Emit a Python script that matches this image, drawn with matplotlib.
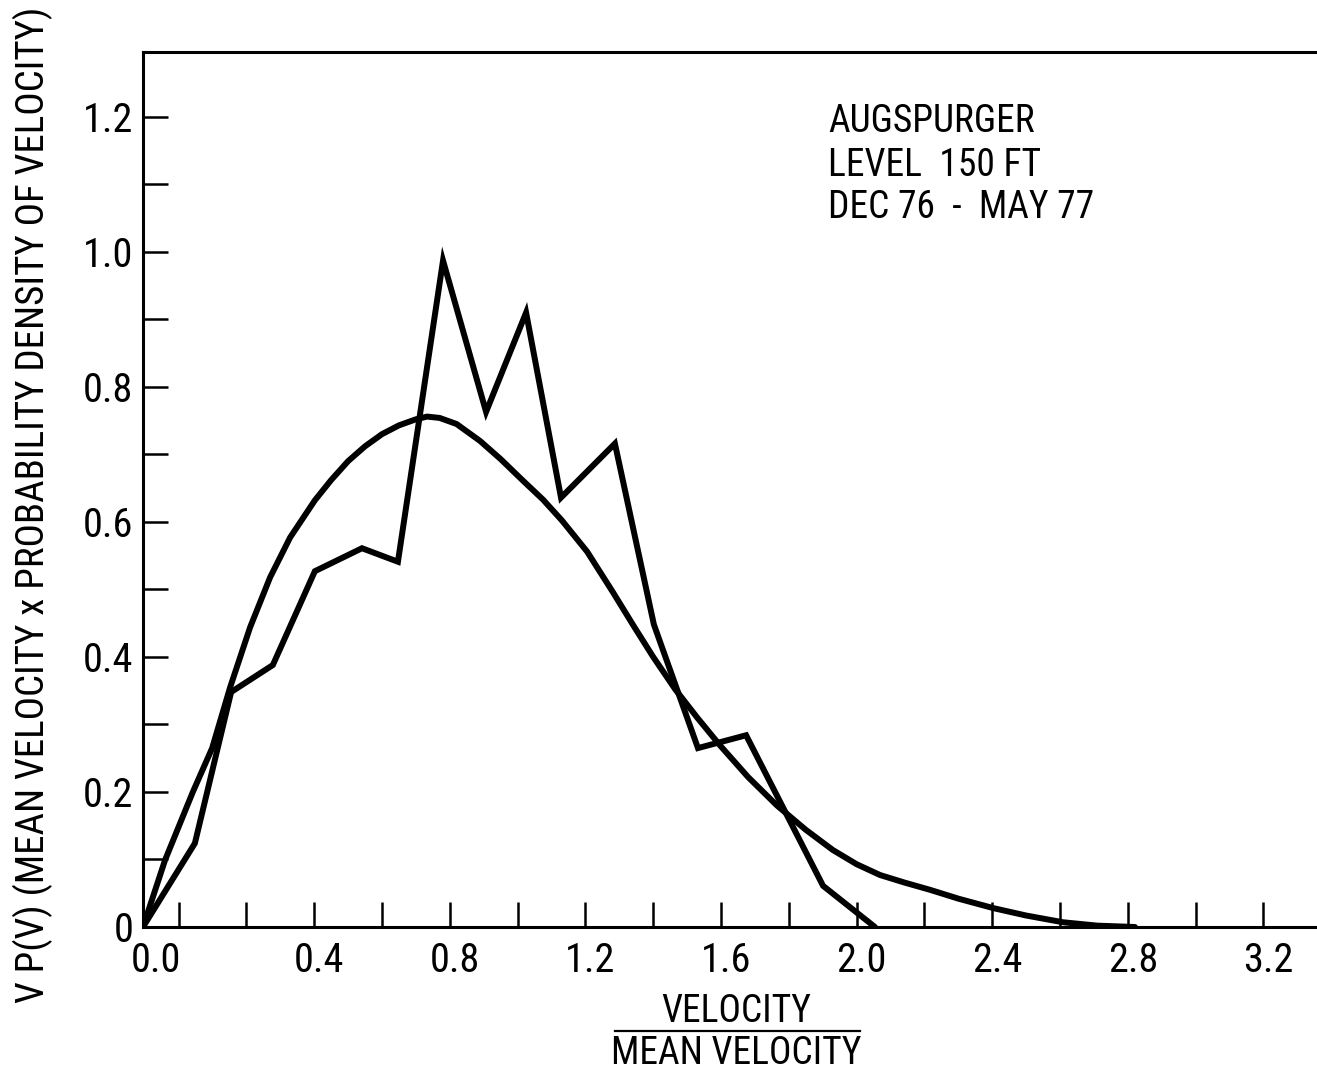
import matplotlib
matplotlib.use('Agg')
import matplotlib.pyplot as plt
from matplotlib.lines import Line2D
from matplotlib.transforms import ScaledTranslation

plt.rcParams['font.family'] = ['Roboto Condensed', 'Liberation Sans Narrow', 'DejaVu Sans']

# measured curve (velocity / mean velocity, V P(V))
meas_x = [-0.105, 0.048, 0.155, 0.278, 0.402, 0.541, 0.647, 0.780, 0.907, 1.025,
          1.128, 1.287, 1.402, 1.532, 1.674, 1.901, 2.054]
meas_y = [0.0, 0.124, 0.348, 0.388, 0.527, 0.561, 0.541, 0.987, 0.763, 0.910,
          0.636, 0.716, 0.448, 0.265, 0.284, 0.061, 0.0]

# fitted smooth curve
fit_x = [-0.105, -0.040, 0.042, 0.099, 0.152, 0.211, 0.270, 0.329, 0.402, 0.450,
         0.500, 0.550, 0.600, 0.650, 0.700, 0.733, 0.770, 0.820, 0.889, 0.950,
         1.016, 1.075, 1.131, 1.205, 1.281, 1.341, 1.400, 1.465, 1.530, 1.597,
         1.680, 1.765, 1.850, 1.930, 2.000, 2.069, 2.140, 2.217, 2.300, 2.403,
         2.500, 2.609, 2.710, 2.821]
fit_y = [0.0, 0.099, 0.200, 0.265, 0.355, 0.444, 0.518, 0.577, 0.632, 0.662,
         0.690, 0.712, 0.730, 0.743, 0.752, 0.756, 0.754, 0.745, 0.720, 0.693,
         0.661, 0.633, 0.602, 0.556, 0.496, 0.447, 0.400, 0.352, 0.310, 0.269,
         0.222, 0.180, 0.144, 0.114, 0.093, 0.077, 0.066, 0.055, 0.042, 0.028,
         0.017, 0.007, 0.002, 0.0]

xtick_vals = [0.0, 0.4, 0.8, 1.2, 1.6, 2.0, 2.4, 2.8, 3.2]
xtick_labels = ['0.0', '0.4', '0.8', '1.2', '1.6', '2.0', '2.4', '2.8', '3.2']
ytick_vals = [0.0, 0.2, 0.4, 0.6, 0.8, 1.0, 1.2]
ytick_labels = ['0', '0.2', '0.4', '0.6', '0.8', '1.0', '1.2']
note_lines = ['AUGSPURGER', 'LEVEL  150 FT', 'DEC 76  -  MAY 77']

W, H = 1317, 1072
fig = plt.figure(figsize=(W / 100, H / 100), dpi=100)
ax = fig.add_axes([143 / W, (H - 927) / H, (W - 143) / W, (927 - 52) / H])

ax.plot(fit_x, fit_y, color='k', lw=4.3, solid_joinstyle='round', solid_capstyle='round')
ax.plot(meas_x, meas_y, color='k', lw=4.3, solid_joinstyle='miter', solid_capstyle='round')

ax.set_xlim(-0.105, 3.358)
ax.set_ylim(0, 1.296)

for s in ['left', 'bottom', 'top']:
    ax.spines[s].set_linewidth(2.2)
ax.spines['right'].set_visible(False)

ax.set_xticks(xtick_vals)
ax.set_xticklabels(xtick_labels)
ax.set_xticks([i * 0.2 for i in range(17)], minor=True)
ax.set_yticks(ytick_vals)
ax.set_yticklabels(ytick_labels)
ax.set_yticks([i * 0.1 for i in range(1, 13)], minor=True)

ax.tick_params(axis='both', which='both', direction='in', length=18, width=1.8, color='k')
ax.tick_params(axis='x', which='major', labelsize=29, pad=10)
ax.tick_params(axis='y', which='major', labelsize=29, pad=7)

for i, lbl in enumerate(ax.get_xticklabels()):
    dx = -23 if i == 0 else 5
    lbl.set_transform(lbl.get_transform() + ScaledTranslation(dx / 100, 0, fig.dpi_scale_trans))

tx = 828 / W
for i, line in enumerate(note_lines):
    fig.text(tx, 1 - (122 + 43 * i) / H, line, fontsize=27, ha='left', va='center')

fig.text(33 / W, 1 - 505 / H, 'V P(V) (MEAN VELOCITY x PROBABILITY DENSITY OF VELOCITY)',
         rotation=90, fontsize=28, ha='center', va='center')

fig.text(736 / W, 1 - 1011 / H, 'VELOCITY', fontsize=27, ha='center', va='center')
fig.text(736 / W, 1 - 1053 / H, 'MEAN VELOCITY', fontsize=27, ha='center', va='center')
fig.add_artist(Line2D([615 / W, 860 / W], [1 - 1031 / H, 1 - 1031 / H], color='k', lw=1.6,
                      transform=fig.transFigure))

fig.savefig('out.png', dpi=100)
